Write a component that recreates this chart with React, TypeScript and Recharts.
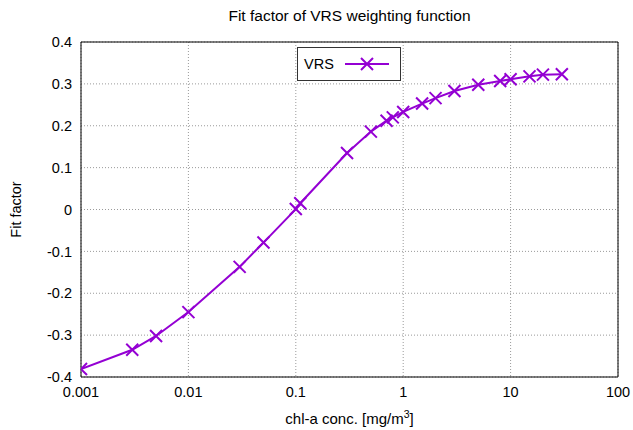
import React from 'react';
import { LineChart, Line, XAxis, YAxis, CartesianGrid, Legend } from 'recharts';

const concentrations = [0.001, 0.003, 0.005, 0.01, 0.03, 0.05, 0.1, 0.11, 0.3, 0.5, 0.7, 0.8, 1, 1.5, 2, 3, 5, 8, 10, 15, 20, 30];
const fitFactor = [-0.381, -0.335, -0.302, -0.245, -0.137, -0.079, 0.001, 0.015, 0.135, 0.186, 0.212, 0.22, 0.233, 0.253, 0.266, 0.283, 0.298, 0.307, 0.311, 0.318, 0.322, 0.323];
const xMajorTicks = [0.001, 0.01, 0.1, 1, 10, 100];
const xMinorTicks = [0.002, 0.005, 0.008, 0.02, 0.05, 0.08, 0.2, 0.5, 0.8, 2, 5, 8, 20, 50, 80];
const yTicks = [-0.4, -0.3, -0.2, -0.1, 0, 0.1, 0.2, 0.3, 0.4];
const seriesName = 'VRS';
const title = 'Fit factor of VRS weighting function';
const yTitle = 'Fit factor';

const data = concentrations.map((c, i) => ({ conc: c, fit: fitFactor[i] }));

const PURPLE = '#9400D3';
const FONT = '"Liberation Sans", Arial, Helvetica, sans-serif';
const X_DOMAIN: [number, number] = [0.001, 100];
const Y_DOMAIN: [number, number] = [-0.4, 0.4];

const XMark = (props: any) => {
  const { cx, cy } = props;
  if (cx == null || cy == null) return null;
  const s = 6;
  return (
    <path
      key={`m-${cx}-${cy}`}
      d={`M${cx - s},${cy - s}L${cx + s},${cy + s}M${cx - s},${cy + s}L${cx + s},${cy - s}`}
      stroke={PURPLE}
      strokeWidth={2}
      fill="none"
    />
  );
};

const LegendBox = () => (
  <div
    style={{
      border: '1px solid #333',
      background: '#fff',
      width: 104,
      height: 34,
      boxSizing: 'border-box',
      display: 'flex',
      alignItems: 'center',
      fontFamily: FONT,
      fontSize: 14.5,
      color: '#000',
    }}
  >
    <span style={{ marginLeft: 6 }}>{seriesName}</span>
    <svg width={50} height={20} style={{ marginLeft: 9 }}>
      <line x1={2} y1={10} x2={46} y2={10} stroke={PURPLE} strokeWidth={2} />
      <path d="M18,4L30,16M18,16L30,4" stroke={PURPLE} strokeWidth={2} fill="none" />
    </svg>
  </div>
);

const fmtY = (v: number) => String(Math.round(v * 10) / 10);

export default function App() {
  return (
    <div style={{ position: 'absolute', left: 0, top: 0, width: 633, height: 430, background: '#fff' }}>
      <div
        style={{
          position: 'absolute',
          top: 7,
          left: 0,
          width: 633,
          textAlign: 'center',
          fontFamily: FONT,
          fontSize: 15.5,
          color: '#000',
          paddingLeft: 66,
          boxSizing: 'border-box',
        }}
      >
        {title}
      </div>
      <LineChart width={633} height={430} data={data} margin={{ top: 42, right: 15, bottom: 0, left: 0 }}>
        <CartesianGrid
          xAxisId="main"
          yAxisId="main"
          stroke="#9a9a9a"
          strokeDasharray="1 2"
          verticalValues={xMajorTicks}
          horizontalValues={yTicks}
        />
        <XAxis
          xAxisId="main"
          dataKey="conc"
          type="number"
          scale="log"
          domain={X_DOMAIN}
          allowDataOverflow
          ticks={xMajorTicks}
          interval={0}
          tickFormatter={(v: number) => String(v)}
          height={53}
          tickLine={false}
          tickSize={6}
          tickMargin={4}
          axisLine={{ stroke: '#000', strokeWidth: 1 }}
          tick={{ fill: '#000', fontSize: 14.5, fontFamily: FONT }}
          label={(p: any) => {
            const vb = p.viewBox || {};
            const cx = (vb.x ?? 81) + (vb.width ?? 537) / 2;
            const y = (vb.y ?? 377) + 47;
            return (
              <text x={cx} y={y} textAnchor="middle" fontFamily={FONT} fontSize={15} fill="#000">
                chl-a conc. [mg/m
                <tspan dy={-6} fontSize={10.5}>3</tspan>
                <tspan dy={6}>]</tspan>
              </text>
            );
          }}
        />
        <XAxis
          xAxisId="bMaj"
          type="number"
          scale="log"
          domain={X_DOMAIN}
          allowDataOverflow
          ticks={xMajorTicks}
          interval={0}
          mirror
          tick={false}
          tickSize={6}
          axisLine={false}
          tickLine={{ stroke: '#000' }}
          height={10}
        />
        <XAxis
          xAxisId="bMin"
          type="number"
          scale="log"
          domain={X_DOMAIN}
          allowDataOverflow
          ticks={xMinorTicks}
          interval={0}
          mirror
          tick={false}
          tickSize={3}
          axisLine={false}
          tickLine={{ stroke: '#000' }}
          height={10}
        />
        <XAxis
          xAxisId="tMaj"
          orientation="top"
          type="number"
          scale="log"
          domain={X_DOMAIN}
          allowDataOverflow
          ticks={xMajorTicks}
          interval={0}
          mirror
          tick={false}
          tickSize={6}
          axisLine={{ stroke: '#000', strokeWidth: 1 }}
          tickLine={{ stroke: '#000' }}
          height={10}
        />
        <XAxis
          xAxisId="tMin"
          orientation="top"
          type="number"
          scale="log"
          domain={X_DOMAIN}
          allowDataOverflow
          ticks={xMinorTicks}
          interval={0}
          mirror
          tick={false}
          tickSize={3}
          axisLine={false}
          tickLine={{ stroke: '#000' }}
          height={10}
        />
        <YAxis
          yAxisId="main"
          type="number"
          domain={Y_DOMAIN}
          allowDataOverflow
          ticks={yTicks}
          interval={0}
          tickFormatter={fmtY}
          width={81}
          tickLine={false}
          tickSize={6}
          tickMargin={3}
          axisLine={{ stroke: '#000', strokeWidth: 1 }}
          tick={{ fill: '#000', fontSize: 14.5, fontFamily: FONT }}
          label={(p: any) => {
            const vb = p.viewBox || {};
            const x = (vb.x ?? 0) + 16;
            const y = (vb.y ?? 42) + (vb.height ?? 335) / 2;
            return (
              <text
                x={x}
                y={y}
                transform={`rotate(-90, ${x}, ${y})`}
                textAnchor="middle"
                dominantBaseline="central"
                fontFamily={FONT}
                fontSize={14.5}
                fill="#000"
              >
                {yTitle}
              </text>
            );
          }}
        />
        <YAxis
          yAxisId="lMaj"
          type="number"
          domain={Y_DOMAIN}
          allowDataOverflow
          ticks={yTicks}
          interval={0}
          mirror
          tick={false}
          tickSize={6}
          axisLine={false}
          tickLine={{ stroke: '#000' }}
          width={10}
        />
        <YAxis
          yAxisId="rMaj"
          orientation="right"
          type="number"
          domain={Y_DOMAIN}
          allowDataOverflow
          ticks={yTicks}
          interval={0}
          mirror
          tick={false}
          tickSize={6}
          axisLine={{ stroke: '#000', strokeWidth: 1 }}
          tickLine={{ stroke: '#000' }}
          width={10}
        />
        <Legend
          layout="horizontal"
          verticalAlign="middle"
          align="center"
          content={() => <LegendBox />}
          wrapperStyle={{ position: 'absolute', top: 47, left: 297, width: 104, height: 34 }}
        />
        <Line
          xAxisId="main"
          yAxisId="main"
          type="linear"
          dataKey="fit"
          name={seriesName}
          stroke={PURPLE}
          strokeWidth={2}
          dot={XMark}
          activeDot={false}
          isAnimationActive={false}
        />
      </LineChart>
    </div>
  );
}
